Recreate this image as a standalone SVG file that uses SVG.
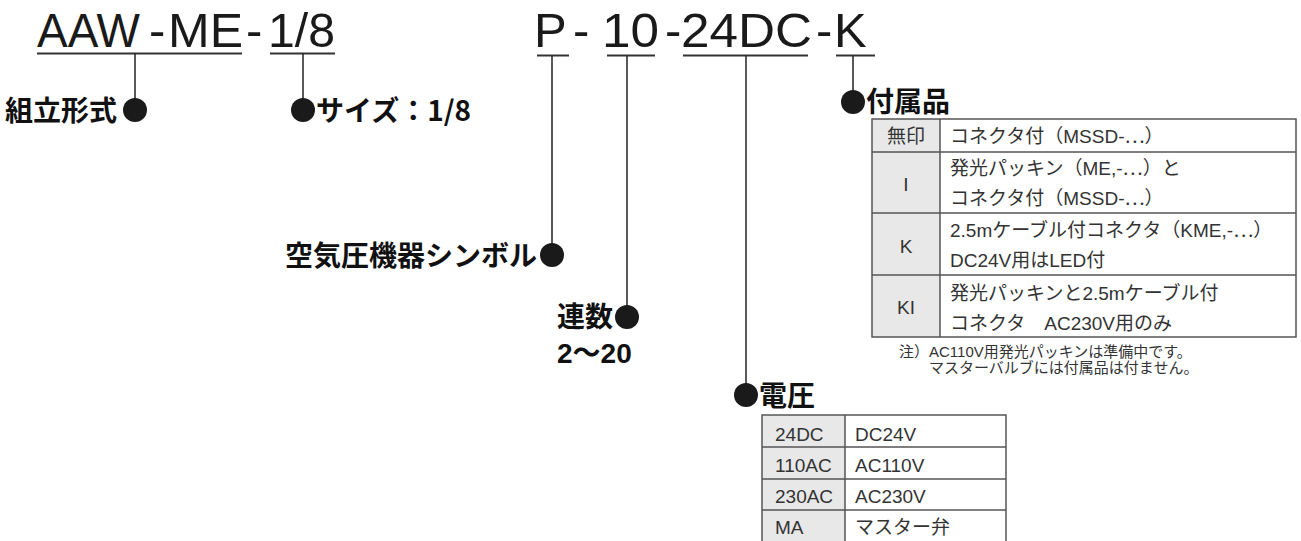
<svg xmlns="http://www.w3.org/2000/svg" width="1301" height="541" viewBox="0 0 1301 541">
<style>
.code{font-family:"Liberation Sans",Arial,sans-serif;font-size:49px;fill:#1a1a1a}
.lbl{font-family:"Noto Sans CJK JP",sans-serif;font-weight:700;font-size:28px;fill:#111}
.num{font-family:"Liberation Sans","Noto Sans CJK JP",sans-serif;font-weight:700;font-size:28px;fill:#111}
.cell{font-family:"Liberation Sans","Noto Sans CJK JP",sans-serif;font-size:19px;fill:#333}
.jp{font-family:"Noto Sans CJK JP",sans-serif}
.note{font-family:"Liberation Sans","Noto Sans CJK JP",sans-serif;font-size:15px;fill:#333}
.ul{stroke:#333;stroke-width:2;fill:none}
.vl{stroke:#222;stroke-width:1.5;fill:none}
.dot{fill:#1a1a1a}
.tb{stroke:#555;stroke-width:1.5;fill:none}
.shade{fill:#e8e8e8}
</style>
<rect width="1301" height="541" fill="#ffffff"/>

<g id="code-left">
  <text class="code" x="37" y="47" textLength="103" lengthAdjust="spacingAndGlyphs">AAW</text>
  <text class="code" x="149" y="47">-</text>
  <text class="code" x="168" y="47" textLength="75" lengthAdjust="spacingAndGlyphs">ME</text>
  <text class="code" x="246" y="47">-</text>
  <text class="code" x="268" y="47" textLength="67" lengthAdjust="spacingAndGlyphs">1/8</text>
</g>

<g id="code-right">
  <text class="code" x="534" y="47">P</text>
  <text class="code" x="573" y="47">-</text>
  <text class="code" x="602" y="47" textLength="57" lengthAdjust="spacingAndGlyphs">10</text>
  <text class="code" x="665" y="47">-</text>
  <text class="code" x="681" y="47" textLength="131" lengthAdjust="spacingAndGlyphs">24DC</text>
  <text class="code" x="816" y="47">-</text>
  <text class="code" x="834" y="47">K</text>
</g>

<g id="connectors">
  <line class="ul" x1="37" y1="53.5" x2="242" y2="53.5"/>
  <line class="ul" x1="270" y1="53.5" x2="335" y2="53.5"/>
  <line class="ul" x1="537" y1="55.5" x2="569" y2="55.5"/>
  <line class="ul" x1="607" y1="55.5" x2="655" y2="55.5"/>
  <line class="ul" x1="683" y1="55.5" x2="808" y2="55.5"/>
  <line class="ul" x1="836" y1="55.5" x2="875" y2="55.5"/>
  <line class="vl" x1="135" y1="53.5" x2="135" y2="110"/>
  <line class="vl" x1="303" y1="53.5" x2="303" y2="110"/>
  <line class="vl" x1="552" y1="55.5" x2="552" y2="255"/>
  <line class="vl" x1="627" y1="55.5" x2="627" y2="317"/>
  <line class="vl" x1="746" y1="55.5" x2="746" y2="395"/>
  <line class="vl" x1="853" y1="55.5" x2="853" y2="102"/>
</g>

<g id="label-assembly">
  <text class="lbl" x="5" y="121">組立形式</text>
  <circle class="dot" cx="135" cy="110" r="12"/>
</g>

<g id="label-size">
  <circle class="dot" cx="303" cy="110" r="12"/>
  <text class="lbl" x="316" y="121">サイズ：1/8</text>
</g>

<g id="label-symbol">
  <text class="lbl" x="285" y="266">空気圧機器シンボル</text>
  <circle class="dot" cx="552" cy="255" r="12"/>
</g>

<g id="label-count">
  <text class="lbl" x="557" y="327">連数</text>
  <circle class="dot" cx="627" cy="317" r="12"/>
  <text class="num" x="557" y="363">2～20</text>
</g>

<g id="label-accessory">
  <circle class="dot" cx="853" cy="102" r="12"/>
  <text class="lbl" x="866" y="112">付属品</text>
  <rect class="shade" x="872" y="119" width="68" height="218"/>
  <rect class="tb" x="872" y="119" width="424" height="218"/>
  <line class="tb" x1="940" y1="119" x2="940" y2="337"/>
  <line class="tb" x1="872" y1="152" x2="1296" y2="152"/>
  <line class="tb" x1="872" y1="213" x2="1296" y2="213"/>
  <line class="tb" x1="872" y1="275" x2="1296" y2="275"/>
  <text class="cell" x="906" y="143" text-anchor="middle">無印</text>
  <text class="cell" x="906" y="191" text-anchor="middle">I</text>
  <text class="cell" x="906" y="253" text-anchor="middle">K</text>
  <text class="cell" x="906" y="314" text-anchor="middle">KI</text>
  <text class="cell" x="950" y="143">コネクタ付（MSSD-<tspan class="jp">…</tspan>）</text>
  <text class="cell" x="950" y="175">発光パッキン（ME,-<tspan class="jp">…</tspan>）と</text>
  <text class="cell" x="950" y="205">コネクタ付（MSSD-<tspan class="jp">…</tspan>）</text>
  <text class="cell" x="950" y="237">2.5mケーブル付コネクタ（KME,-<tspan class="jp">…</tspan>）</text>
  <text class="cell" x="950" y="267">DC24V用はLED付</text>
  <text class="cell" x="950" y="300">発光パッキンと2.5mケーブル付</text>
  <text class="cell" x="950" y="330">コネクタ　AC230V用のみ</text>
</g>

<g id="note">
  <text class="note" x="899" y="357">注）AC110V用発光パッキンは準備中です。</text>
  <text class="note" x="929" y="373">マスターバルブには付属品は付ません。</text>
</g>

<g id="label-voltage">
  <circle class="dot" cx="746" cy="395" r="12"/>
  <text class="lbl" x="759" y="406">電圧</text>
  <rect class="shade" x="762" y="415" width="83" height="127"/>
  <rect class="tb" x="762" y="415" width="244" height="127"/>
  <line class="tb" x1="845" y1="415" x2="845" y2="542"/>
  <line class="tb" x1="762" y1="447" x2="1006" y2="447"/>
  <line class="tb" x1="762" y1="479" x2="1006" y2="479"/>
  <line class="tb" x1="762" y1="510" x2="1006" y2="510"/>
  <text class="cell" x="775" y="441">24DC</text>
  <text class="cell" x="775" y="472">110AC</text>
  <text class="cell" x="775" y="503">230AC</text>
  <text class="cell" x="775" y="534">MA</text>
  <text class="cell" x="855" y="441">DC24V</text>
  <text class="cell" x="855" y="472">AC110V</text>
  <text class="cell" x="855" y="503">AC230V</text>
  <text class="cell" x="855" y="534">マスター弁</text>
</g>
</svg>
